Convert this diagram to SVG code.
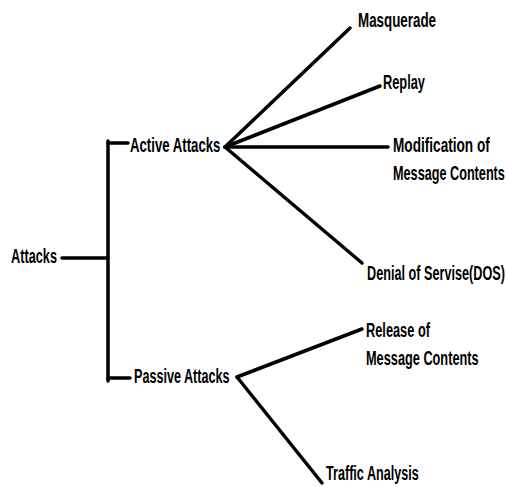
<svg xmlns="http://www.w3.org/2000/svg" width="508" height="487" viewBox="0 0 508 487">
<style>
text{font-family:"Liberation Sans","Arial",sans-serif;font-weight:bold;font-size:20.5px;fill:#000}
.c line{stroke:#000;stroke-width:3.5;stroke-linecap:round}
</style>
<rect width="508" height="487" fill="#fff"/>
<g class="c" id="connectors">
<line x1="62" y1="258" x2="108" y2="258"/>
<line x1="108" y1="141" x2="108" y2="381"/>
<line x1="108" y1="143" x2="128" y2="143"/>
<line x1="108" y1="378" x2="130" y2="378"/>
<line x1="225" y1="147" x2="350" y2="28"/>
<line x1="225" y1="147" x2="380" y2="86"/>
<line x1="225" y1="147" x2="388" y2="147"/>
<line x1="225" y1="147" x2="362" y2="263"/>
<line x1="237" y1="377" x2="362" y2="329"/>
<line x1="237" y1="377" x2="322" y2="483"/>
</g>
<g id="attacks"><text transform="translate(11,263) scale(0.621,1)">Attacks</text></g>
<g id="active"><text transform="translate(130,152) scale(0.644,1)">Active Attacks</text></g>
<g id="passive"><text transform="translate(134,383) scale(0.615,1)">Passive Attacks</text></g>
<g id="masquerade"><text transform="translate(358,27) scale(0.653,1)">Masquerade</text></g>
<g id="replay"><text transform="translate(383,89) scale(0.625,1)">Replay</text></g>
<g id="modification"><text transform="translate(393,152) scale(0.665,1)">Modification of</text><text transform="translate(393,180) scale(0.618,1)">Message Contents</text></g>
<g id="dos"><text transform="translate(367,280) scale(0.618,1)">Denial of Servise(DOS)</text></g>
<g id="release"><text transform="translate(366,337) scale(0.624,1)">Release of</text><text transform="translate(366,365) scale(0.622,1)">Message Contents</text></g>
<g id="traffic"><text transform="translate(326,480) scale(0.616,1)">Traffic Analysis</text></g>
</svg>
